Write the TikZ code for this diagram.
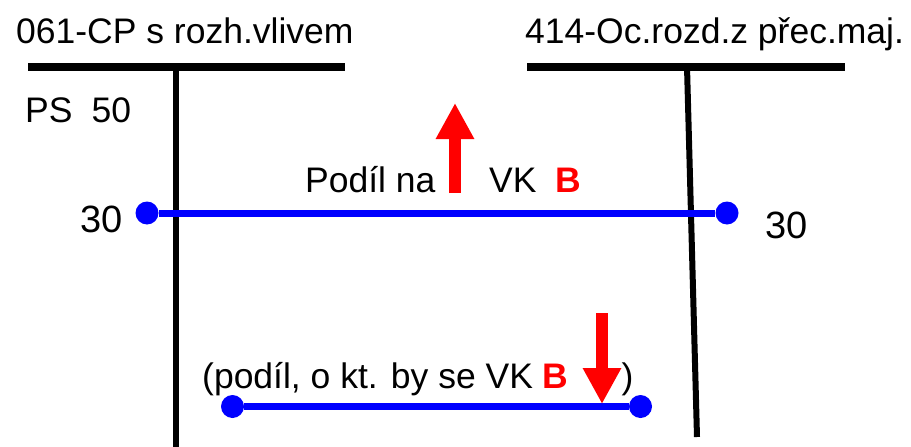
\documentclass[tikz,border=0pt]{standalone}
\usepackage{fontspec}
\setmainfont{Liberation Sans}
\usetikzlibrary{arrows.meta,positioning}
\begin{document}
\begin{tikzpicture}[x=1pt, y=-1pt, lbl/.style = {font=\fontsize{35.5}{35.5}\selectfont, inner sep=0pt, anchor=base west}, num/.style = {font=\fontsize{38}{38}\selectfont, inner sep=0pt, anchor=base west}, dot/.style = {circle, fill=blue, minimum size=23pt, inner sep=0pt}, bar/.style = {line width=8pt}, post/.style = {line width=6pt}, flow/.style = {blue, line width=7pt}, move/.style = {red, line width=12pt, -{Triangle[width=36pt, length=36pt]}}]
		\useasboundingbox (0,0) rectangle (911,447);
		\node[lbl] (t1) at (16,43) {061-CP s rozh.vlivem};
		\node[lbl] (t2) at (525,43) {414-Oc.rozd.z přec.maj.};
		\coordinate (a1) at (28,66.5);
		\coordinate (a2) at (345,66.5);
		\coordinate (s1) at (176,66.5);
		\coordinate (e1) at (176,447);
		\coordinate (b1) at (527,66.5);
		\coordinate (b2) at (845,66.5);
		\coordinate (s2) at (687,66.5);
		\coordinate (e2) at (697,437);
		\draw[bar] (a1) -- (a2);
		\draw[bar] (b1) -- (b2);
		\draw[post] (s1) -- (e1);
		\draw[post] (s2) -- (e2);
		\node[lbl] (ps) at (25,122) {PS\hspace{19pt}50};
		\node[num] (n1) at (80,232) {30};
		\node[num] (n2) at (765,238) {30};
		\node[dot] (1) at (147,213) {};
		\node[dot] (2) at (727,213) {};
		\draw[flow] (1) -- (2);
		\node[lbl] (pod) at (305,192) {Podíl na};
		\node[lbl] (vk) at (489,192) {VK\hspace{19pt}\textcolor{red}{\textbf{B}}};
		\coordinate (u1) at (455,193);
		\coordinate (u2) at (455,103);
		\draw[move] (u1) -- (u2);
		\node[dot] (3) at (232.5,406.5) {};
		\node[dot] (4) at (640.5,406.5) {};
		\draw[flow] (3) -- (4);
		\node[lbl] (txt) at (202,388) {(podíl, o kt. by se VK \textcolor{red}{\textbf{B}}\hspace{53pt})};
		\coordinate (w1) at (602,313);
		\coordinate (w2) at (602,404);
		\draw[move] (w1) -- (w2);
\end{tikzpicture}
\end{document}
